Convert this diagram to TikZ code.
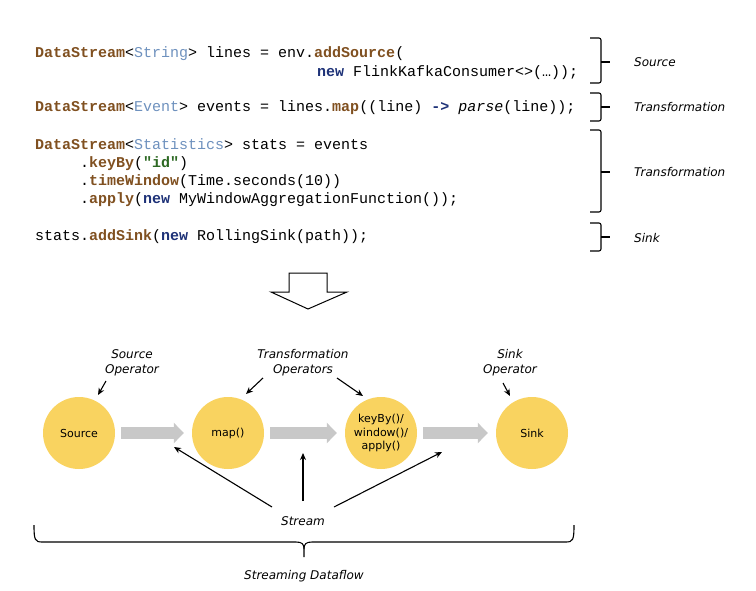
\documentclass[tikz,border=0pt]{standalone}
\usepackage{fontspec}
\setmainfont{DejaVu Sans}
\newfontfamily\codefont{Liberation Mono}
\usetikzlibrary{arrows.meta}
\definecolor{brn}{RGB}{128,80,32}
\definecolor{lblue}{RGB}{110,145,190}
\definecolor{navy}{RGB}{30,50,120}
\definecolor{grn}{RGB}{45,105,35}
\definecolor{opyellow}{RGB}{249,211,96}
\definecolor{flowgray}{RGB}{200,200,200}
\newcommand\kw[1]{\textcolor{navy}{\bfseries#1}}
\newcommand\mt[1]{\textcolor{brn}{\bfseries#1}}
\newcommand\ty[1]{\textcolor{lblue}{#1}}
\begin{document}
\begin{tikzpicture}[x=1pt,y=-1pt,
 code/.style={anchor=base west, inner sep=0, font=\codefont\fontsize{15}{18}\selectfont},
 bracelabel/.style={anchor=west, inner sep=0, font=\fontsize{12}{15}\selectfont\itshape},
 op/.style={circle, fill=opyellow, minimum size=72pt, inner sep=0, align=center, font=\fontsize{11}{13.5}\selectfont},
 oplabel/.style={align=center, inner sep=0, font=\fontsize{12}{15}\selectfont\itshape},
 flow/.style={draw=flowgray, line width=12pt, -{Triangle[length=10pt,width=20pt]}, shorten <=6pt, shorten >=8pt},
 ptr/.style={line width=1.1pt, -{Stealth[length=7pt,width=6pt]}},
 brace/.style={line width=1.1pt, rounded corners=2pt}
]
\useasboundingbox[fill=white] (0,0) rectangle (756,590);

% code
\node[code] (c1) at (35,57) {\mt{DataStream}<\ty{String}> lines = env.\mt{addSource}(};
\node[code] (c2) at (317,76) {\kw{new} FlinkKafkaConsumer<>(…));};
\node[code] (c3) at (35,111) {\mt{DataStream}<\ty{Event}> events = lines.\mt{map}((line) \kw{->} {\itshape parse}(line));};
\node[code] (c4) at (35,149) {\mt{DataStream}<\ty{Statistics}> stats = events};
\node[code] (c5) at (80,167) {.\mt{keyBy}(\textcolor{grn}{\bfseries"id"})};
\node[code] (c6) at (80,185) {.\mt{timeWindow}(Time.seconds(10))};
\node[code] (c7) at (80,203) {.\mt{apply}(\kw{new} MyWindowAggregationFunction());};
\node[code] (c8) at (35,240) {stats.\mt{addSink}(\kw{new} RollingSink(path));};

% right braces
\draw[brace] (590,38) -- (601,38) -- (601,83) -- (590,83);
\draw[line width=1.1pt] (601,62) -- (610,62);
\draw[brace] (590,93) -- (601,93) -- (601,121) -- (590,121);
\draw[line width=1.1pt] (601,107) -- (610,107);
\draw[brace] (590,130) -- (601,130) -- (601,212) -- (590,212);
\draw[line width=1.1pt] (601,172) -- (610,172);
\draw[brace] (590,223) -- (601,223) -- (601,251) -- (590,251);
\draw[line width=1.1pt] (601,237) -- (610,237);
\node[bracelabel] (l1) at (634,62) {Source};
\node[bracelabel] (l2) at (634,107) {Transformation};
\node[bracelabel] (l3) at (634,172) {Transformation};
\node[bracelabel] (l4) at (634,238) {Sink};

% hollow down arrow
\draw[line width=1pt, line join=miter] (289,273) -- (327,273) -- (327,292) -- (347,292) -- (308,309) -- (271,292) -- (289,292) -- cycle;

% operators
\node[op] (src) at (79,433) {Source};
\node[op] (map) at (228,433) {map()};
\node[op] (kab) at (381,433) {keyBy()/\\window()/\\apply()};
\node[op] (snk) at (532,433) {Sink};
\draw[flow] (src) -- (map);
\draw[flow] (map) -- (kab);
\draw[flow] (kab) -- (snk);

% operator labels
\node[oplabel] (srcop) at (132,362.5) {Source\\Operator};
\node[oplabel] (trop) at (303,362.5) {Transformation\\Operators};
\node[oplabel] (snkop) at (510,362.5) {Sink\\Operator};
\coordinate (a1s) at (106,381); \coordinate (a1e) at (98,395);
\coordinate (a2s) at (263,378); \coordinate (a2e) at (246,394);
\coordinate (a3s) at (337,378); \coordinate (a3e) at (363,396);
\coordinate (a4s) at (503,383); \coordinate (a4e) at (510,396);
\draw[ptr] (a1s) -- (a1e);
\draw[ptr] (a2s) -- (a2e);
\draw[ptr] (a3s) -- (a3e);
\draw[ptr] (a4s) -- (a4e);

% stream
\node[oplabel] (stream) at (303,521) {Stream};
\coordinate (s1s) at (272,507); \coordinate (s1e) at (174,447);
\coordinate (s2s) at (303,501); \coordinate (s2e) at (303,453);
\coordinate (s3s) at (334,507); \coordinate (s3e) at (442,452);
\draw[ptr] (s1s) -- (s1e);
\draw[ptr] (s2s) -- (s2e);
\draw[ptr] (s3s) -- (s3e);

% bottom brace
\draw[line width=1.1pt] (34,525) .. controls (34,540) and (35,542) .. (42,542) -- (296,542)
  .. controls (302,542) and (304,544) .. (304,549) -- (304,557);
\draw[line width=1.1pt] (304,549) .. controls (304,544) and (306,542) .. (312,542) -- (566,542)
  .. controls (573,542) and (574,540) .. (574,525);
\node[oplabel] (dataflow) at (304,576) {Streaming Dataflow};
\end{tikzpicture}
\end{document}
